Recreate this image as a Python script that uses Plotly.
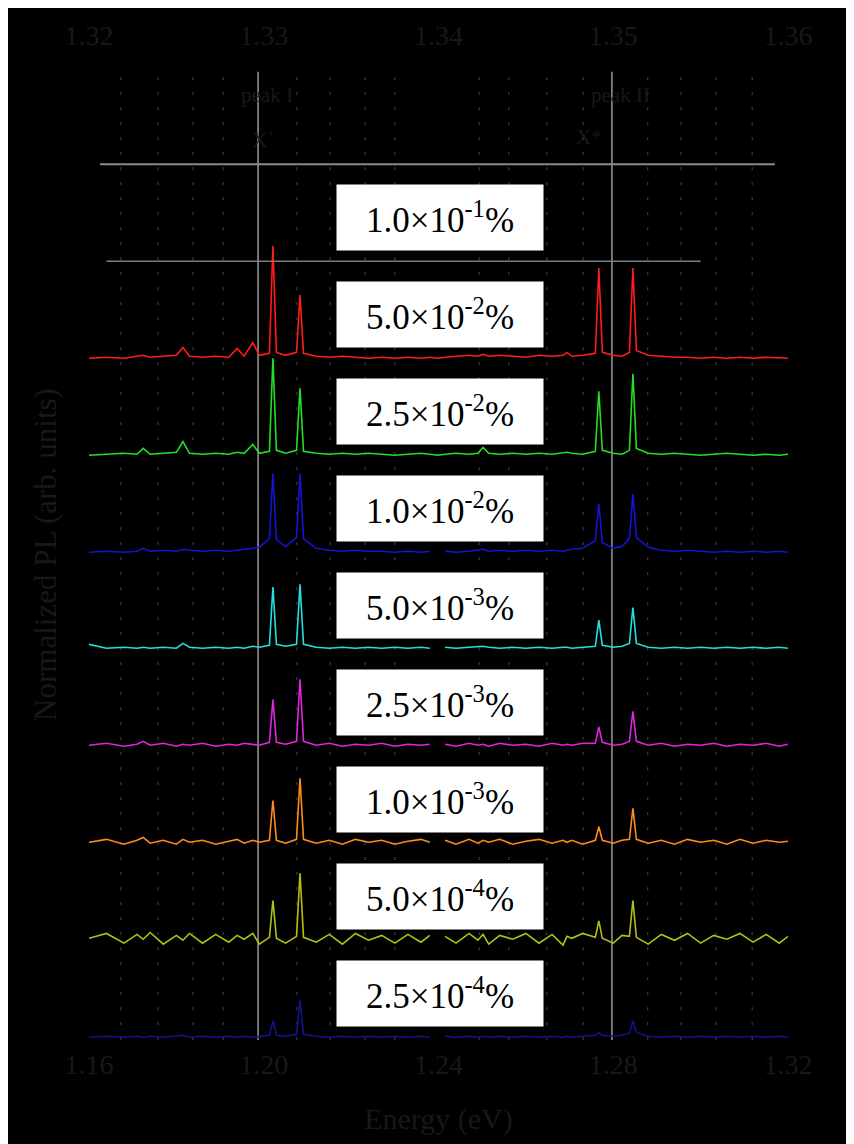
import plotly.graph_objects as go

# ---------------- data ----------------
energy = [1.1600, 1.1640, 1.1680, 1.1710, 1.1724, 1.1740, 1.1770, 1.1800, 1.1815, 1.1830,
          1.1860, 1.1890, 1.1920, 1.1939, 1.1955, 1.1975, 1.1990, 1.2013, 1.2021, 1.2029,
          1.2050, 1.2075, 1.2083, 1.2091, 1.2120, 1.2150, 1.2180, 1.2210, 1.2240, 1.2270,
          1.2300, 1.2330, 1.2360, 1.2380, 1.2398,
          1.2415, 1.2440, 1.2470, 1.2490, 1.2502, 1.2515, 1.2540, 1.2570, 1.2600, 1.2630,
          1.2660, 1.2685, 1.2694, 1.2705, 1.2730, 1.2759, 1.2767, 1.2775, 1.2800, 1.2820,
          1.2837, 1.2845, 1.2853, 1.2880, 1.2910, 1.2940, 1.2970, 1.3000, 1.3030, 1.3060,
          1.3090, 1.3120, 1.3150, 1.3180, 1.3200]

labels = ["2.5×10<sup>-4</sup>%", "5.0×10<sup>-4</sup>%", "1.0×10<sup>-3</sup>%",
          "2.5×10<sup>-3</sup>%", "5.0×10<sup>-3</sup>%", "1.0×10<sup>-2</sup>%",
          "2.5×10<sup>-2</sup>%", "5.0×10<sup>-2</sup>%", "1.0×10<sup>-1</sup>%"]

colors = ["#12128e", "#b4c012", "#ff8c14", "#e024e0", "#22e0e0",
          "#1414d2", "#22e022", "#ff1c1c", "#7c7c7c"]

s_2_5e4 = [0.00,0.01,0.00,0.01,0.00,0.01,0.00,0.01,0.02,0.00,0.01,0.00,0.01,0.00,0.01,0.00,0.01,0.02,0.17,0.02,0.01,0.03,0.38,0.03,0.01,0.00,0.01,0.00,0.01,0.00,0.01,0.00,0.01,0.00,None,
           0.01,0.00,0.01,0.00,0.01,0.00,0.01,0.00,0.01,0.00,0.01,0.00,0.01,0.00,0.01,0.02,0.05,0.02,0.01,0.02,0.04,0.17,0.05,0.01,0.00,0.01,0.00,0.01,0.00,0.01,0.00,0.01,0.00,0.01,0.00]
s_5_0e4 = [0.02,0.07,-0.03,0.06,0.01,0.08,-0.04,0.05,0.00,0.07,-0.03,0.06,-0.02,0.05,0.01,0.07,-0.04,0.03,0.41,0.02,-0.03,0.04,0.69,0.03,-0.02,0.06,-0.04,0.07,0.00,0.05,-0.03,0.06,-0.02,0.05,None,
           0.04,-0.03,0.07,0.00,0.06,-0.04,0.05,0.01,0.07,-0.03,0.06,-0.05,0.04,0.02,0.07,0.03,0.20,0.02,-0.03,0.05,0.04,0.41,0.03,-0.04,0.06,0.00,0.07,-0.03,0.05,0.01,0.07,-0.02,0.06,-0.03,0.04]
s_1_0e3 = [0.01,0.04,-0.01,0.03,0.06,0.00,0.03,-0.01,0.04,0.01,0.03,-0.01,0.02,0.04,0.00,0.03,0.01,0.03,0.44,0.03,0.00,0.04,0.67,0.04,0.00,0.03,-0.01,0.04,0.01,0.03,-0.01,0.02,0.04,0.01,None,
           0.03,-0.01,0.04,0.00,0.03,0.01,0.04,-0.01,0.02,0.04,0.00,0.03,0.01,0.03,-0.01,0.03,0.17,0.03,0.00,0.03,0.04,0.36,0.04,0.00,0.03,-0.01,0.04,0.01,0.03,-0.01,0.04,0.00,0.03,0.01,0.02]
s_2_5e3 = [0.01,0.03,0.00,0.02,0.05,0.01,0.03,0.00,0.02,0.01,0.03,0.00,0.02,0.01,0.03,0.02,0.01,0.04,0.48,0.04,0.02,0.05,0.69,0.05,0.01,0.03,0.00,0.02,0.01,0.03,0.00,0.02,0.01,0.02,None,
           0.02,0.00,0.03,0.01,0.02,0.00,0.03,0.01,0.02,0.00,0.03,0.01,0.02,0.01,0.03,0.03,0.20,0.04,0.01,0.02,0.05,0.36,0.05,0.01,0.03,0.00,0.02,0.01,0.03,0.00,0.02,0.01,0.03,0.00,0.02]
s_5_0e3 = [0.05,0.01,0.02,0.01,0.02,0.01,0.02,0.01,0.06,0.02,0.01,0.02,0.01,0.02,0.01,0.03,0.02,0.04,0.64,0.05,0.03,0.05,0.67,0.05,0.02,0.01,0.02,0.01,0.02,0.01,0.02,0.01,0.02,0.01,None,
           0.02,0.01,0.02,0.03,0.03,0.02,0.01,0.02,0.01,0.02,0.01,0.02,0.02,0.01,0.02,0.03,0.30,0.04,0.02,0.03,0.06,0.43,0.06,0.02,0.01,0.02,0.01,0.02,0.01,0.02,0.01,0.02,0.01,0.02,0.01]
s_1_0e2 = [0.00,0.01,0.00,0.01,0.04,0.01,0.02,0.01,0.03,0.02,0.01,0.02,0.01,0.02,0.03,0.04,0.05,0.14,0.81,0.13,0.06,0.15,0.81,0.14,0.04,0.02,0.01,0.02,0.01,0.01,0.00,0.01,0.00,0.01,None,
           0.01,0.00,0.01,0.02,0.03,0.01,0.02,0.01,0.02,0.01,0.02,0.01,0.02,0.03,0.04,0.12,0.50,0.10,0.04,0.06,0.14,0.60,0.15,0.05,0.02,0.01,0.02,0.01,0.00,0.01,0.00,0.01,0.00,0.01,0.00]
s_2_5e2 = [0.00,0.01,0.02,0.01,0.07,0.01,0.02,0.03,0.14,0.02,0.01,0.02,0.01,0.03,0.02,0.11,0.02,0.04,1.00,0.05,0.02,0.05,0.69,0.04,0.02,0.01,0.02,0.01,0.02,0.01,0.00,0.01,0.02,0.01,0.00,
           0.01,0.02,0.01,0.02,0.08,0.02,0.01,0.02,0.01,0.02,0.01,0.02,0.03,0.02,0.01,0.04,0.66,0.05,0.02,0.01,0.05,0.84,0.07,0.02,0.01,0.02,0.01,0.00,0.01,0.02,0.01,0.00,0.01,0.00,0.01]
s_5_0e2 = [0.00,0.01,0.00,0.02,0.03,0.01,0.02,0.03,0.11,0.02,0.01,0.02,0.01,0.10,0.02,0.16,0.03,0.05,1.16,0.06,0.03,0.06,0.65,0.05,0.02,0.01,0.02,0.01,0.00,0.01,0.00,0.01,0.00,0.01,0.00,
           0.01,0.02,0.03,0.02,0.04,0.02,0.03,0.02,0.01,0.03,0.02,0.03,0.06,0.02,0.03,0.05,0.93,0.06,0.03,0.02,0.06,0.93,0.08,0.03,0.02,0.01,0.01,0.00,0.01,0.00,0.01,0.00,0.01,0.00,0.00]
s_1_0e1 = [None,0.00,0.00,0.00,0.00,0.00,0.00,0.00,0.00,0.00,0.00,0.00,0.00,0.00,0.00,0.00,0.00,0.00,0.00,0.00,0.00,0.00,0.00,0.00,0.00,0.00,0.00,0.00,0.00,0.00,0.00,0.00,0.00,0.00,0.00,
           0.00,0.00,0.00,0.00,0.00,0.00,0.00,0.00,0.00,0.00,0.00,0.00,0.00,0.00,0.00,0.00,0.00,0.00,0.00,0.00,0.00,0.00,0.00,0.00,0.00,0.00,0.00,0.00,None,None,None,None,None,None,None]

series = [s_2_5e4, s_5_0e4, s_1_0e3, s_2_5e3, s_5_0e3, s_1_0e2, s_2_5e2, s_5_0e2, s_1_0e1]

bottom_ticks = [1.16, 1.20, 1.24, 1.28, 1.32]
top_ticks = [1.32, 1.33, 1.34, 1.35, 1.36]

grid_x = [1.1673, 1.1758, 1.1838, 1.1907, 1.2076, 1.2152, 1.2232, 1.2300,
          1.2493, 1.2561, 1.2648, 1.2731, 1.2879, 1.2955, 1.3035, 1.3118]
peak_lines = [1.1987, 1.2797]
peak_names = ["peak I", "peak II"]

# ---------------- figure ----------------
fig = go.Figure()
TXT = "#181818"
SERIF = "Liberation Serif, Times New Roman, serif"

for k, (vals, col) in enumerate(zip(series, colors)):
    fig.add_trace(go.Scatter(
        x=energy, y=[None if v is None else k + v for v in vals],
        mode="lines", line=dict(color=col, width=1.6),
        connectgaps=False, showlegend=False, hoverinfo="skip"))

# invisible trace for the top axis
fig.add_trace(go.Scatter(x=[top_ticks[0], top_ticks[-1]], y=[0, 0], xaxis="x2",
                         mode="lines", line=dict(width=0), opacity=0,
                         showlegend=False, hoverinfo="skip"))

shapes = []
for gx in grid_x:
    shapes.append(dict(type="line", xref="x", yref="paper", x0=gx, x1=gx, y0=0.005, y1=0.992,
                       line=dict(color="#484848", width=1, dash="3px,12px"), layer="below"))
for px in peak_lines:
    shapes.append(dict(type="line", xref="x", yref="paper", x0=px, x1=px, y0=0.005, y1=0.992,
                       line=dict(color="#9a9a9a", width=1.5), layer="below"))
shapes.append(dict(type="line", xref="x", yref="y", x0=1.1625, x1=1.3170, y0=9.0, y1=9.0,
                   line=dict(color="#8a8a8a", width=2), layer="below"))

annotations = []
for k, lab in enumerate(labels):
    annotations.append(dict(x=1.2403, y=k + 0.45, xref="x", yref="y", text=lab, showarrow=False,
                            bgcolor="white", width=206, height=65, borderpad=0,
                            xanchor="center", yanchor="middle",
                            font=dict(family=SERIF, size=35, color="black")))
for px, nm in zip(peak_lines, peak_names):
    annotations.append(dict(x=px + 0.002, y=0.983, xref="x", yref="paper", text=nm, showarrow=False,
                            font=dict(family=SERIF, size=21, color=TXT)))
annotations.append(dict(x=1.2000, y=0.94, xref="x", yref="paper", text="X<sup>+</sup>", showarrow=False,
                        font=dict(family=SERIF, size=21, color=TXT)))
annotations.append(dict(x=1.2745, y=0.94, xref="x", yref="paper", text="X*", showarrow=False,
                        font=dict(family=SERIF, size=21, color=TXT)))

fig.update_layout(
    width=854, height=1144,
    margin=dict(l=81, r=74, t=52, b=107),
    paper_bgcolor="black", plot_bgcolor="black",
    shapes=shapes, annotations=annotations,
    xaxis=dict(range=[1.16, 1.32], tickvals=bottom_ticks, ticktext=[f"{t:.2f}" for t in bottom_ticks],
               showgrid=False, zeroline=False, showline=False, ticks="",
               tickfont=dict(family=SERIF, size=28, color=TXT),
               title=dict(text="Energy (eV)", font=dict(family=SERIF, size=30, color=TXT), standoff=28)),
    xaxis2=dict(range=[1.32, 1.36], overlaying="x", side="top", anchor="y",
                tickvals=top_ticks, ticktext=[f"{t:.2f}" for t in top_ticks],
                showgrid=False, zeroline=False, showline=False, ticks="",
                ticklabelstandoff=12,
                tickfont=dict(family=SERIF, size=28, color=TXT)),
    yaxis=dict(range=[-0.08, 10.033], showticklabels=False, showgrid=False, zeroline=False,
               showline=False, ticks="",
               title=dict(text="Normalized PL (arb. units)", font=dict(family=SERIF, size=31, color=TXT),
                          standoff=22)),
)

fig.write_html("out.html")
